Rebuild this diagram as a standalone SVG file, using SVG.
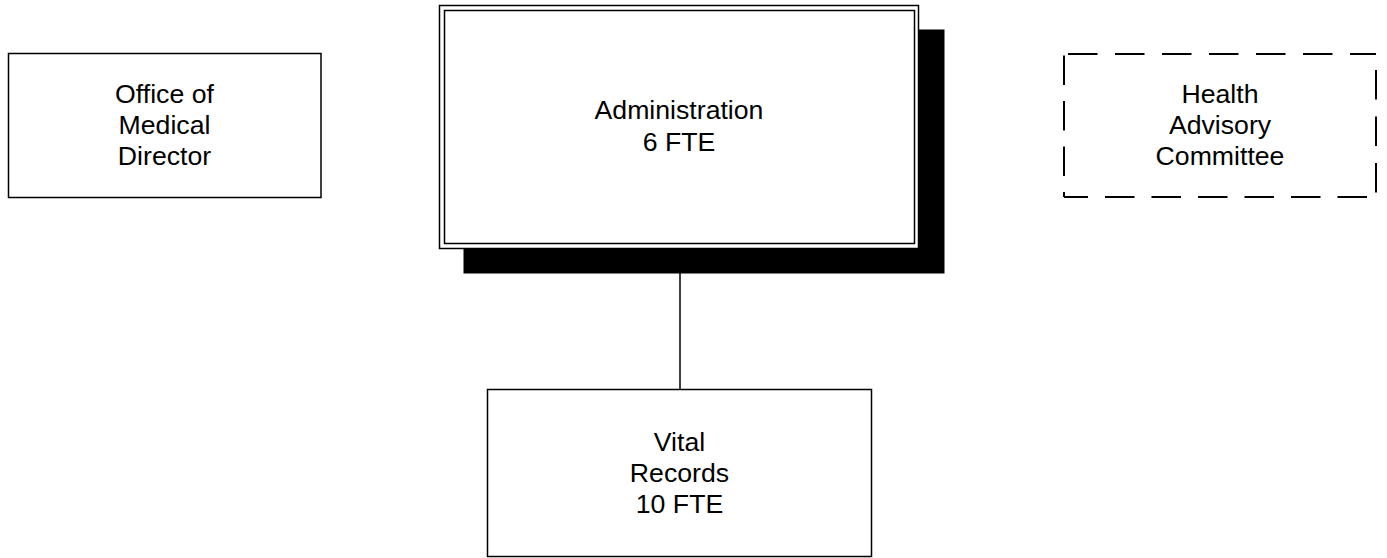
<svg xmlns="http://www.w3.org/2000/svg" width="1387" height="558" viewBox="0 0 1387 558">
<style>
.box{fill:#fff;stroke:#000;stroke-width:1.5}
.dash{fill:none;stroke:#000;stroke-width:2}
.shadow{fill:#000;stroke:none}
.lbl{font-family:"Liberation Sans",Arial,sans-serif;font-size:26.67px;fill:#000;text-anchor:middle}
.conn{stroke:#000;stroke-width:1.5;fill:none}
</style>
<rect width="1387" height="558" fill="#fff"/>
<g id="connectors">
<line class="conn" x1="680" y1="272" x2="680" y2="390"/>
</g>
<g id="office-medical-director">
<rect class="box" x="8.5" y="53.5" width="312.5" height="144"/>
<text class="lbl" x="164.5" y="103">Office of</text>
<text class="lbl" x="164.5" y="134">Medical</text>
<text class="lbl" x="164.5" y="165">Director</text>
</g>
<g id="administration">
<rect class="shadow" x="463.5" y="29.5" width="481" height="244"/>
<rect class="box" x="439.5" y="5.5" width="479" height="243" stroke-width="2"/>
<rect class="box" x="444.5" y="10.5" width="470" height="233"/>
<text class="lbl" x="679" y="119">Administration</text>
<text class="lbl" x="679" y="151">6 FTE</text>
</g>
<g id="health-advisory-committee">
<rect x="1064" y="54" width="312" height="143" fill="#fff" stroke="none"/>
<line class="dash" x1="1064" y1="54" x2="1376" y2="54" stroke-dasharray="29.5 17.5" stroke-dashoffset="43"/>
<line class="dash" x1="1376" y1="54" x2="1376" y2="197" stroke-dasharray="29.5 17" stroke-dashoffset="30.5"/>
<line class="dash" x1="1376" y1="197" x2="1064" y2="197" stroke-dasharray="29.5 17" stroke-dashoffset="37.5"/>
<line class="dash" x1="1064" y1="197" x2="1064" y2="54" stroke-dasharray="29.5 16" stroke-dashoffset="24.5"/>
<text class="lbl" x="1220" y="103">Health</text>
<text class="lbl" x="1220" y="134">Advisory</text>
<text class="lbl" x="1220" y="165">Committee</text>
</g>
<g id="vital-records">
<rect class="box" x="487.5" y="389.5" width="384" height="167"/>
<text class="lbl" x="679.5" y="451">Vital</text>
<text class="lbl" x="679.5" y="482">Records</text>
<text class="lbl" x="679.5" y="513">10 FTE</text>
</g>
</svg>
